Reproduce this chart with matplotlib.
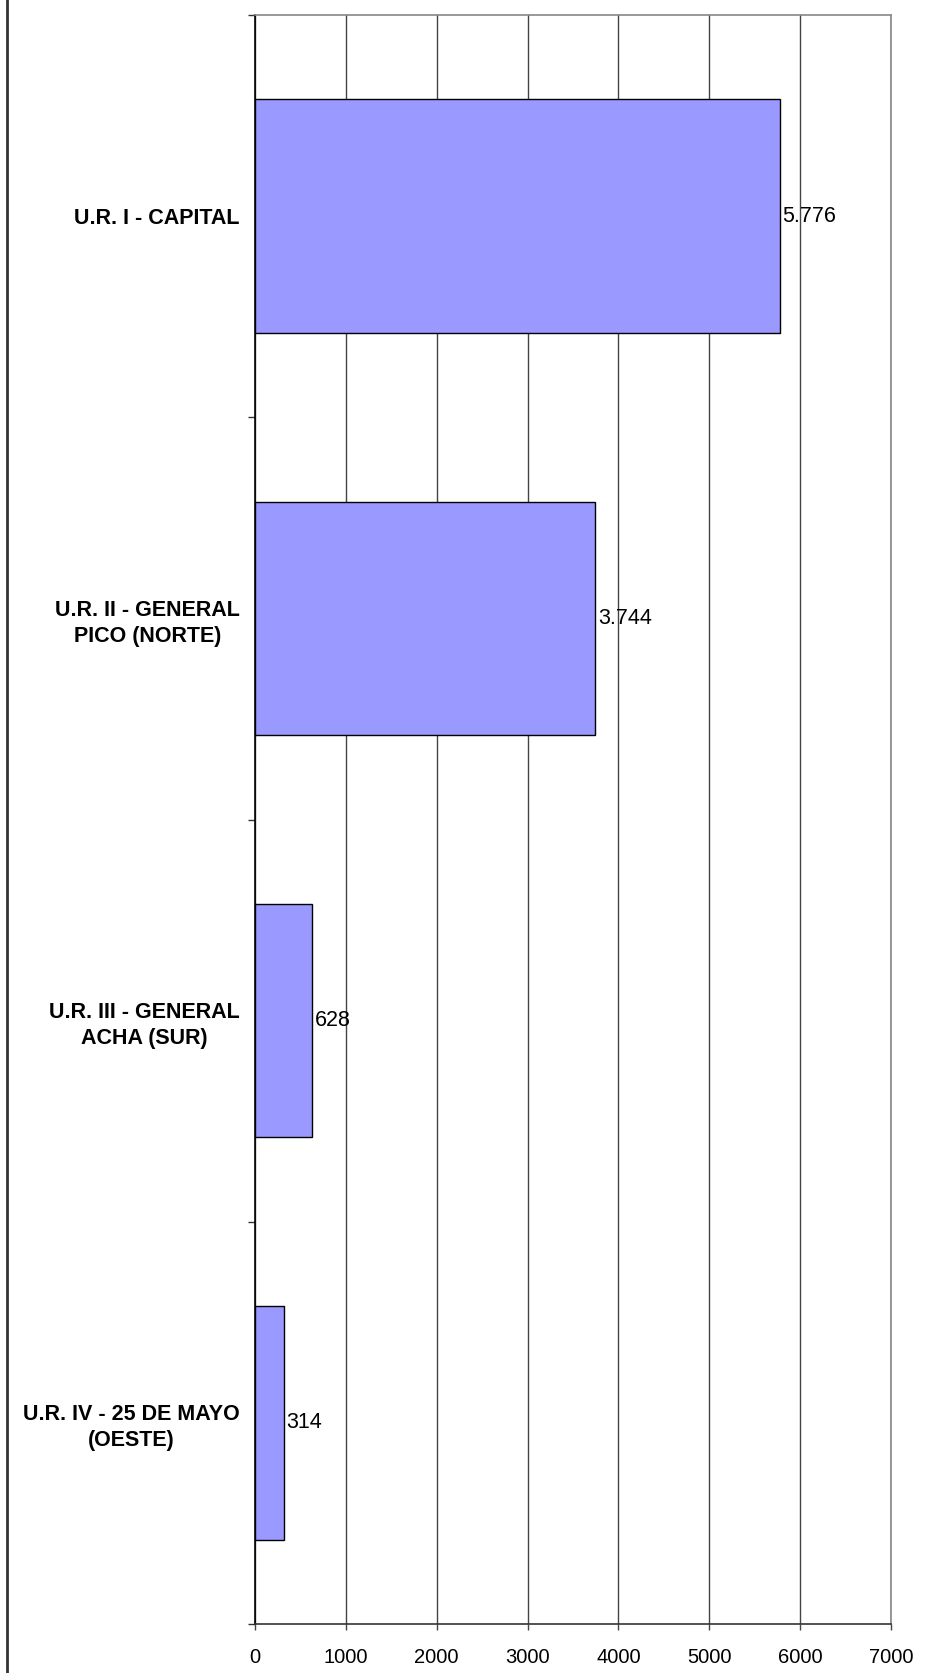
import matplotlib.pyplot as plt
import matplotlib.lines as mlines
import numpy as np

plt.rcParams['font.family'] = ['Liberation Sans', 'DejaVu Sans']

categories = ["U.R. I - CAPITAL", "U.R. II - GENERAL\nPICO (NORTE)",
              "U.R. III - GENERAL\nACHA (SUR)", "U.R. IV - 25 DE MAYO\n(OESTE)"]
values = [5776, 3744, 628, 314]
value_labels = ["5.776", "3.744", "628", "314"]
xticks = [0, 1000, 2000, 3000, 4000, 5000, 6000, 7000]

fig = plt.figure(figsize=(9.29, 16.73), dpi=100)
ax = fig.add_axes([255 / 929, 1 - 1624 / 1673, 636 / 929, 1609 / 1673])

y = np.arange(len(categories))
ax.barh(y, values, height=0.58, color="#9999FF", edgecolor="black", linewidth=1, zorder=3)

for yi, v, lab in zip(y, values, value_labels):
    ax.annotate(lab, (v, yi), xytext=(2, 0), textcoords="offset points",
                va="center", ha="left", fontsize=15.5, zorder=4)

ax.set_xlim(0, 7000)
ax.set_ylim(len(categories) - 0.5, -0.5)
ax.set_xticks(xticks)
ax.set_xticklabels([str(t) for t in xticks], fontsize=14.5)
ax.xaxis.grid(True, color="#444444", linewidth=1, zorder=0)
ax.tick_params(axis="x", length=4.5, width=1, color="#444444", pad=13)

ax.set_yticks(y)
ax.set_yticklabels(categories, fontsize=15.5, fontweight="bold")
for lbl in ax.get_yticklabels():
    lbl.set_multialignment("center")
    lbl.set_linespacing(1.3)
ax.tick_params(axis="y", which="major", length=0, pad=11)
ax.set_yticks(np.arange(-0.5, len(categories), 1.0), minor=True)
ax.tick_params(axis="y", which="minor", length=5, width=1, color="#333333")

ax.spines["left"].set_color("black")
ax.spines["bottom"].set_color("#333333")
ax.spines["top"].set_color("#888888")
ax.spines["right"].set_color("#888888")
for s in ax.spines.values():
    s.set_linewidth(1.2)

# left border of the chart frame
fig.add_artist(mlines.Line2D([7 / 929, 7 / 929], [0, 1], color="#333333", linewidth=2,
                             transform=fig.transFigure))

fig.savefig("out.png", dpi=100)
